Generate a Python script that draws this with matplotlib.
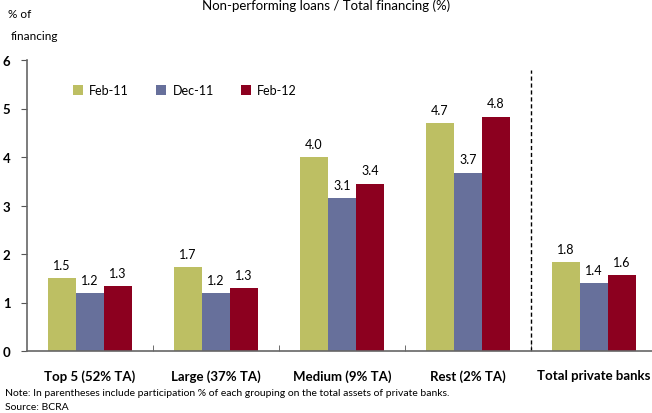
import matplotlib.pyplot as plt
import numpy as np

plt.rcParams['font.family'] = ['Lato', 'DejaVu Sans']

# data
categories = ["Top 5 (52% TA)", "Large (37% TA)", "Medium (9% TA)", "Rest (2% TA)", "Total private banks"]
series = ["Feb-11", "Dec-11", "Feb-12"]
feb11 = [1.5, 1.73, 4.0, 4.7, 1.83]
dec11 = [1.2, 1.2, 3.15, 3.68, 1.4]
feb12 = [1.34, 1.3, 3.45, 4.83, 1.57]
labels_feb11 = ["1.5", "1.7", "4.0", "4.7", "1.8"]
labels_dec11 = ["1.2", "1.2", "3.1", "3.7", "1.4"]
labels_feb12 = ["1.3", "1.3", "3.4", "4.8", "1.6"]
colors = ["#BDBF63", "#67709B", "#8C001F"]

fig = plt.figure(figsize=(6.52, 4.14), dpi=100)
ax = fig.add_axes([27/652, 62/414, 625/652, 291/414])

x = np.arange(len(categories))
w = 0.222
vals = [feb11, dec11, feb12]
labs = [labels_feb11, labels_dec11, labels_feb12]
for i, (v, lb) in enumerate(zip(vals, labs)):
    xs = x + (i - 1) * w
    ax.bar(xs, v, width=w, color=colors[i], label=series[i])
    for xx, vv, t in zip(xs, v, lb):
        ax.text(xx, vv + 0.15, t, ha='center', va='bottom', fontsize=9)

ax.set_xlim(-0.5, 4.46)
ax.set_ylim(0, 6)
ax.set_yticks(range(7))
ax.set_yticklabels([str(i) for i in range(7)], fontweight='bold', fontsize=9.5)
ax.set_xticks(x)
ax.set_xticklabels(categories, fontweight='bold', fontsize=9.5)
ax.tick_params(axis='x', length=0, pad=13)
ax.tick_params(axis='y', length=4, direction='out', color='#555555', pad=8)
ax.set_xticks(np.arange(0.5, 4, 1), minor=True)
ax.tick_params(axis='x', which='minor', length=4, direction='in', color='#555555')

for s in ['top', 'right']:
    ax.spines[s].set_visible(False)
for s in ['left', 'bottom']:
    ax.spines[s].set_color('#666666')
    ax.spines[s].set_linewidth(1.2)

ax.plot([3.5, 3.5], [0, 5.8], linestyle=(0, (3, 2)), color='black', linewidth=1)

ax.legend(loc='upper left', bbox_to_anchor=(0.055, 0.955), ncol=3, frameon=False,
          fontsize=9, handlelength=0.8, handleheight=0.8, columnspacing=2.2, handletextpad=0.5)

fig.text(0.5, 0.985, "Non-performing loans / Total financing (%)", ha='center', va='center', fontsize=9.5)
fig.text(0.012, 0.965, "% of", ha='left', va='center', fontsize=8.5)
fig.text(0.016, 0.912, "financing", ha='left', va='center', fontsize=8.5)
fig.text(0.008, 0.05, "Note: In parentheses include participation % of each grouping on the total assets of private banks.",
         ha='left', va='center', fontsize=7.5)
fig.text(0.008, 0.015, "Source: BCRA", ha='left', va='center', fontsize=7.5)

fig.savefig("out.png", dpi=100)
